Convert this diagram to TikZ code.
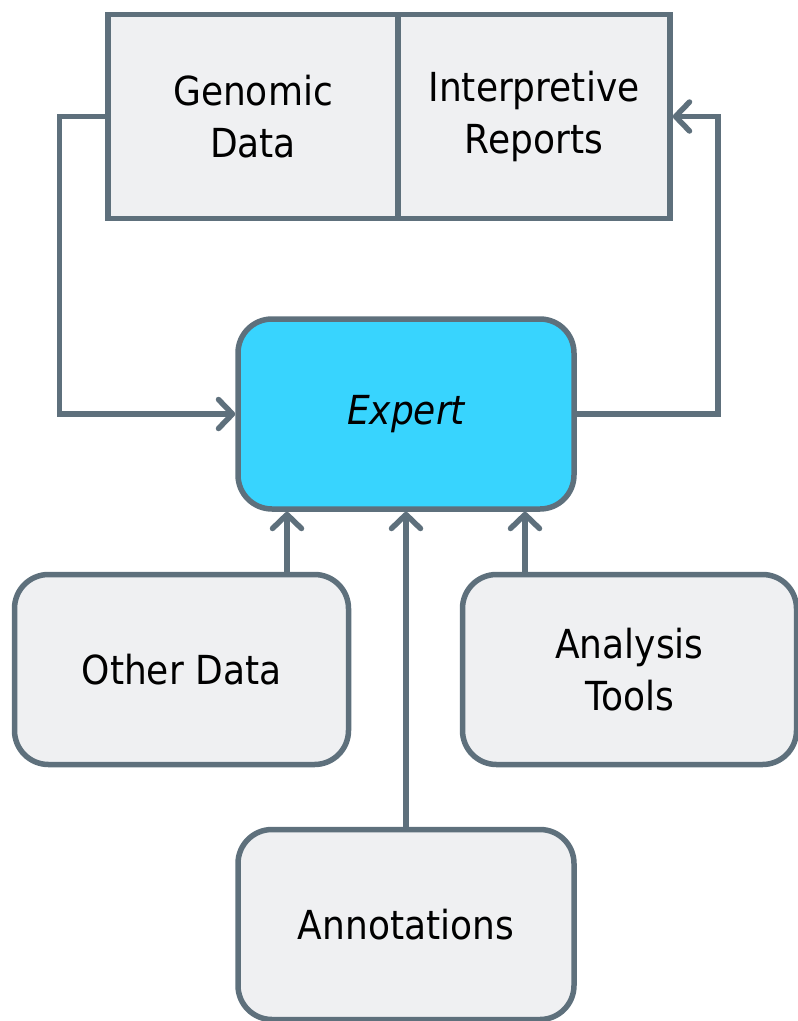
\documentclass[tikz,border=0pt]{standalone}
\usepackage{fontspec}
\setmainfont[FakeStretch=0.9]{DejaVu Sans}
\usetikzlibrary{arrows.meta}
\definecolor{edgegray}{RGB}{94,112,124}
\definecolor{boxgray}{RGB}{239,240,242}
\definecolor{expertcyan}{RGB}{56,212,254}

\begin{document}
\begin{tikzpicture}[x=1pt, y=-1pt, font=\fontsize{40}{52}\selectfont]
  \tikzset{
    flow/.style={-{Straight Barb[length=14pt, width=29pt, round]}, line width=5.5pt, draw=edgegray},
    databox/.style={draw=edgegray, line width=5.5pt, fill=boxgray, minimum height=204pt, align=center, inner sep=0pt},
    srcbox/.style={draw=edgegray, line width=5.5pt, fill=boxgray, rounded corners=34pt, minimum width=334pt, minimum height=190pt, align=center, inner sep=0pt}
  }
  \useasboundingbox (0,0) rectangle (798,1021);

  % Main nodes
  \node[databox, minimum width=290pt] (genomic) at (253,116.5) {Genomic\\Data};
  \node[databox, minimum width=272pt] (reports) at (534,116.5) {Interpretive\\Reports};

  \node[srcbox, fill=expertcyan, minimum width=336pt] (expert) at (406,414) {\itshape Expert};

  \node[srcbox] (otherdata) at (181.5,669.5) {Other Data};
  \node[srcbox] (tools)     at (629.5,669.5) {Analysis\\Tools};
  \node[srcbox, minimum width=336pt] (annot) at (406,924.5) {Annotations};

  % Feedback loop
  \draw[flow] (genomic.west) -- ++(-46,0) |- (expert.west);
  \draw[flow] (expert.east) -- ++(141,0) |- (reports.east);

  % Inputs to expert
  \draw[flow] (otherdata.north -| 287,0) -- (expert.south -| 287,0);
  \draw[flow] (annot.north) -- (expert.south);
  \draw[flow] (tools.north -| 525,0) -- (expert.south -| 525,0);

\end{tikzpicture}
\end{document}
